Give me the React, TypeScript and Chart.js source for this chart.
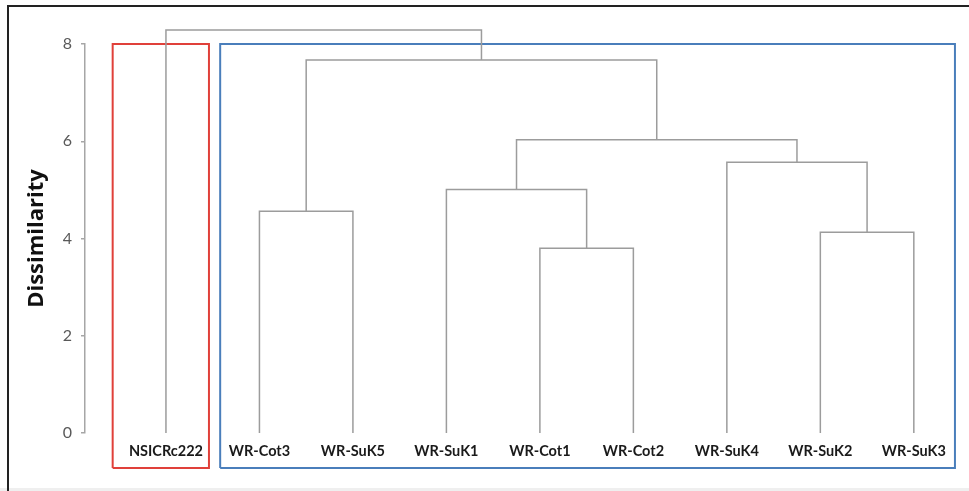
import React, { useEffect, useRef } from "react";
import { Chart, registerables } from "chart.js";

Chart.register(...registerables);

// Leaves of the dendrogram (left to right)
const leafNames = [
  "NSICRc222",
  "WR-Cot3",
  "WR-SuK5",
  "WR-SuK1",
  "WR-Cot1",
  "WR-Cot2",
  "WR-SuK4",
  "WR-SuK2",
  "WR-SuK3",
];

// Merges: node ids 0..8 are leaves, merge k gets id 9 + k
const mergeLeft = [4, 7, 1, 3, 6, 12, 11, 0];
const mergeRight = [5, 8, 2, 9, 10, 13, 14, 15];
const mergeHeights = [3.8, 4.13, 4.56, 5.01, 5.57, 6.03, 7.67, 8.29];

const yTicks = [0, 2, 4, 6, 8];

// Cluster boxes (in data units)
const clusterXStart = [-0.57, 0.58];
const clusterXEnd = [0.46, 8.44];
const clusterTop = [8, 8];
const clusterBottom = [-0.72, -0.72];
const clusterColors = ["#e0403a", "#4a7ebb"];

function buildDatasets() {
  const nodeX: number[] = leafNames.map((_, i) => i);
  const nodeY: number[] = leafNames.map(() => 0);
  const datasets: any[] = [];
  mergeHeights.forEach((h, k) => {
    const l = mergeLeft[k];
    const r = mergeRight[k];
    const xl = nodeX[l];
    const xr = nodeX[r];
    datasets.push({
      data: [
        { x: xl, y: nodeY[l] },
        { x: xl, y: h },
        { x: xr, y: h },
        { x: xr, y: nodeY[r] },
      ],
      borderColor: "#9c9c9c",
      borderWidth: 1.5,
    });
    nodeX.push((xl + xr) / 2);
    nodeY.push(h);
  });
  clusterXStart.forEach((x0, i) => {
    const x1 = clusterXEnd[i];
    const t = clusterTop[i];
    const b = clusterBottom[i];
    datasets.push({
      data: [
        { x: x0, y: b },
        { x: x0, y: t },
        { x: x1, y: t },
        { x: x1, y: b },
        { x: x0, y: b },
      ],
      borderColor: clusterColors[i],
      borderWidth: 2,
    });
  });
  return datasets.map((d) => ({
    ...d,
    showLine: true,
    pointRadius: 0,
    fill: false,
    clip: false,
    tension: 0,
    borderJoinStyle: "miter",
  }));
}

const framePlugin = {
  id: "frame",
  beforeDraw(chart: any) {
    const ctx = chart.ctx;
    ctx.save();
    ctx.fillStyle = "#ffffff";
    ctx.fillRect(0, 0, chart.width, chart.height);
    ctx.fillStyle = "#efefef";
    ctx.fillRect(0, chart.height - 3, chart.width, 3);
    ctx.strokeStyle = "#222222";
    ctx.lineWidth = 2;
    ctx.beginPath();
    ctx.moveTo(8, chart.height);
    ctx.lineTo(8, 6);
    ctx.lineTo(chart.width, 6);
    ctx.stroke();
    ctx.restore();
  },
};

export default function App() {
  const ref = useRef<HTMLCanvasElement | null>(null);
  useEffect(() => {
    if (!ref.current) return;
    const chart = new Chart(ref.current, {
      type: "scatter",
      data: { datasets: buildDatasets() },
      options: {
        responsive: false,
        animation: false,
        devicePixelRatio: 1,
        layout: { padding: { top: 44, right: 9, left: 0, bottom: 0 } },
        plugins: {
          legend: { display: false },
          tooltip: { enabled: false },
        },
        scales: {
          x: {
            type: "linear",
            min: -0.866,
            max: 8.494,
            afterBuildTicks: (s: any) => {
              s.ticks = leafNames.map((_, i) => ({ value: i }));
            },
            afterFit: (s: any) => {
              s.height = 58;
            },
            ticks: {
              autoSkip: false,
              maxRotation: 0,
              padding: 10,
              color: "#1a1a1a",
              font: { family: "Lato", size: 14.5, weight: "bold" },
              callback: (_v: any, i: number) => leafNames[i],
            },
            grid: { display: false, drawTicks: false },
            border: { display: false },
          },
          y: {
            type: "linear",
            min: 0,
            max: 8,
            afterBuildTicks: (s: any) => {
              s.ticks = yTicks.map((v) => ({ value: v }));
            },
            afterFit: (s: any) => {
              s.width = 85;
            },
            ticks: {
              padding: 9,
              color: "#595959",
              font: { family: "Lato", size: 16 },
            },
            grid: {
              drawOnChartArea: false,
              drawTicks: true,
              tickLength: 4,
              color: "#a6a6a6",
              lineWidth: 1.5,
            },
            border: { display: true, color: "#a6a6a6", width: 1.5 },
            title: {
              display: true,
              text: "Dissimilarity",
              color: "#111111",
              font: { family: "Open Sans", size: 22, weight: "bold" },
              padding: { top: 24, bottom: 0 },
            },
          },
        },
      },
      plugins: [framePlugin],
    });
    return () => chart.destroy();
  }, []);
  return (
    <div style={{ position: "absolute", left: 0, top: 0, width: 969, height: 491 }}>
      <canvas ref={ref} width={969} height={491} />
    </div>
  );
}
